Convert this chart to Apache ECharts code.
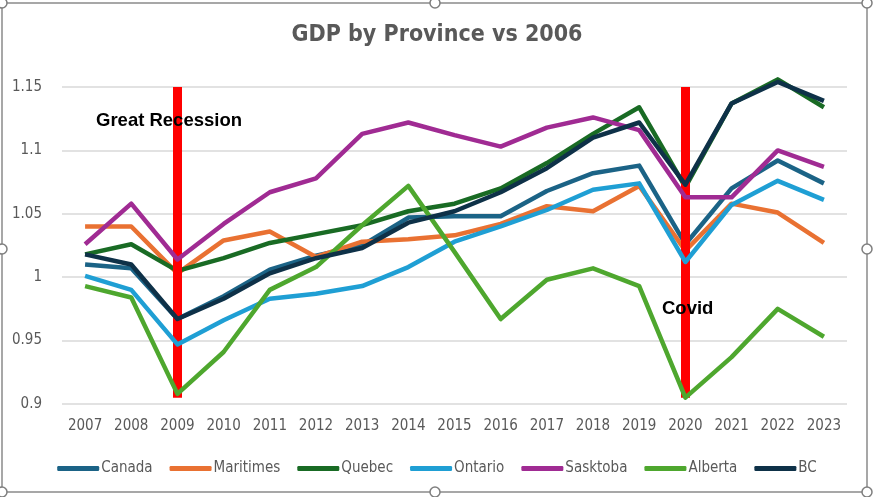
<!DOCTYPE html>
<html>
<head>
<meta charset="utf-8">
<script src="https://cdn.jsdelivr.net/npm/echarts@6/dist/echarts.min.js"></script>
<style>
html,body{margin:0;padding:0;background:#fff;}
#chart{width:874px;height:497px;}
</style>
</head>
<body>
<div id="chart"></div>
<script>
var years = ['2007','2008','2009','2010','2011','2012','2013','2014','2015','2016','2017','2018','2019','2020','2021','2022','2023'];
var canada    = [1.010,1.007,0.967,0.985,1.006,1.017,1.025,1.047,1.048,1.048,1.068,1.082,1.088,1.026,1.070,1.092,1.074];
var maritimes = [1.040,1.040,1.003,1.029,1.036,1.016,1.028,1.030,1.033,1.042,1.056,1.052,1.072,1.021,1.058,1.051,1.027];
var quebec    = [1.018,1.026,1.005,1.015,1.027,1.034,1.041,1.052,1.058,1.070,1.090,1.113,1.134,1.071,1.137,1.156,1.134];
var ontario   = [1.001,0.990,0.947,0.966,0.983,0.987,0.993,1.008,1.028,1.040,1.053,1.069,1.074,1.012,1.057,1.076,1.061];
var sasktoba  = [1.026,1.058,1.014,1.042,1.067,1.078,1.113,1.122,1.112,1.103,1.118,1.126,1.116,1.063,1.063,1.100,1.087];
var alberta   = [0.993,0.984,0.908,0.941,0.990,1.008,1.041,1.072,1.020,0.967,0.998,1.007,0.993,0.905,0.937,0.975,0.953];
var bc        = [1.018,1.010,0.967,0.983,1.003,1.015,1.023,1.043,1.052,1.067,1.086,1.110,1.122,1.073,1.137,1.154,1.139];
var seriesNames = ['Canada','Maritimes','Quebec','Ontario','Sasktoba','Alberta','BC'];
var seriesData = [canada, maritimes, quebec, ontario, sasktoba, alberta, bc];
var colors = ['#1B6386','#E97132','#196B24','#1F9FD4','#A02B93','#4EA72E','#0E3148'];
var eventYears = ['2009','2020'];
var eventLabels = ['Great Recession','Covid'];
var eventLow = 0.905, eventHigh = 1.15;

var font = "'Liberation Sans Narrow','DejaVu Sans Condensed','Roboto',sans-serif";
var chart = echarts.init(document.getElementById('chart'));

var series = seriesNames.map(function(n,i){
  return {
    name:n, type:'line', data:seriesData[i], symbol:'none', clip:false,
    lineStyle:{width:4.5,color:colors[i],join:'round'}, itemStyle:{color:colors[i]},
    z: 2+i
  };
});
series.push({
  name:'events', type:'line', data:[], silent:true, z:20,
  markLine:{
    silent:true, symbol:['none','none'], label:{show:false},
    lineStyle:{color:'#FF0000',width:9,type:'solid',cap:'butt'},
    emphasis:{disabled:true},
    data: eventYears.map(function(y){ return [{coord:[y,eventLow]},{coord:[y,eventHigh]}]; })
  }
});

chart.setOption({
  animation:false,
  color:colors,
  title:{text:'GDP by Province vs 2006', left:'center', top:19,
    textStyle:{fontFamily:font,fontSize:23,fontWeight:'bold',color:'#595959'}},
  grid:{left:62,right:27,top:87,bottom:93},
  xAxis:{type:'category',data:years,boundaryGap:true,
    axisLine:{show:false},axisTick:{show:false},
    axisLabel:{fontFamily:font,fontSize:15,color:'#595959',margin:15,interval:0}},
  yAxis:{type:'value',min:0.9,max:1.15,interval:0.05,
    axisLine:{show:false},axisTick:{show:false},
    splitLine:{lineStyle:{color:'#D9D9D9',width:1.5}},
    axisLabel:{fontFamily:font,fontSize:15,color:'#595959',margin:20}},
  legend:{bottom:16,left:'center',data:seriesNames,icon:'roundRect',itemWidth:42,itemHeight:5,itemGap:17,
    textStyle:{fontFamily:font,fontSize:15,color:'#595959',padding:[0,0,0,-3]}},
  graphic:[
    {type:'rect',shape:{x:2,y:3,width:865,height:489},style:{fill:'none',stroke:'#8a8a8a',lineWidth:1.5},silent:true},
    {type:'text',left:96,top:111,style:{text:eventLabels[0],font:"bold 18.5px 'Liberation Sans','Arial',sans-serif",fill:'#000'},z:30},
    {type:'text',left:662,top:299,style:{text:eventLabels[1],font:"bold 18.5px 'Liberation Sans','Arial',sans-serif",fill:'#000'},z:30},
    {type:'circle',shape:{cx:2,cy:3,r:5},style:{fill:'#fff',stroke:'#7f7f7f',lineWidth:1.5},z:40},
    {type:'circle',shape:{cx:435,cy:3,r:5},style:{fill:'#fff',stroke:'#7f7f7f',lineWidth:1.5},z:40},
    {type:'circle',shape:{cx:867,cy:3,r:5},style:{fill:'#fff',stroke:'#7f7f7f',lineWidth:1.5},z:40},
    {type:'circle',shape:{cx:2,cy:249,r:5},style:{fill:'#fff',stroke:'#7f7f7f',lineWidth:1.5},z:40},
    {type:'circle',shape:{cx:867,cy:249,r:5},style:{fill:'#fff',stroke:'#7f7f7f',lineWidth:1.5},z:40},
    {type:'circle',shape:{cx:2,cy:492,r:5},style:{fill:'#fff',stroke:'#7f7f7f',lineWidth:1.5},z:40},
    {type:'circle',shape:{cx:435,cy:492,r:5},style:{fill:'#fff',stroke:'#7f7f7f',lineWidth:1.5},z:40},
    {type:'circle',shape:{cx:867,cy:492,r:5},style:{fill:'#fff',stroke:'#7f7f7f',lineWidth:1.5},z:40}
  ],
  series:series
});
</script>
</body>
</html>
